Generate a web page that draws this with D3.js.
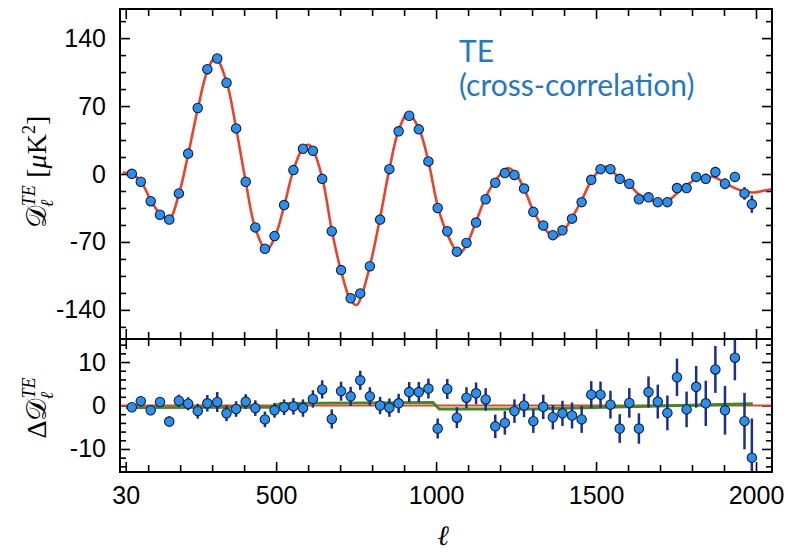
<!DOCTYPE html>
<html>
<head>
<meta charset="utf-8">
<script src="https://cdn.jsdelivr.net/npm/d3@7"></script>
<style>
  body { margin: 0; background: #fff; }
  .tick text { font-family: "Liberation Sans", Arial, sans-serif; font-size: 25px; fill: #000; }
</style>
</head>
<body>
<div id="chart"></div>
<script>
// binned multipoles
const ell = [49, 77, 108, 137, 166, 196, 225, 255, 285, 316, 345, 375, 405, 435, 465, 495, 525, 554, 584, 615,
  644, 674, 703, 733, 763, 793, 825, 854, 883, 916, 946, 976, 1005, 1035, 1065, 1095, 1125, 1155, 1185, 1215,
  1245, 1275, 1304, 1335, 1365, 1395, 1425, 1455, 1485, 1514, 1545, 1574, 1604, 1634, 1664, 1693, 1723, 1753, 1783, 1813,
  1843, 1873, 1903, 1934, 1964, 1987];

// D_l^TE data points (muK^2)
const teData = [0.2, -8, -28, -42, -47, -20, 21, 68, 108, 119, 94, 47, -8, -55, -77, -64, -32, 4, 26, 24,
  -5, -59, -99, -128, -123, -95, -47, 5, 44, 60, 46, 13, -35, -59, -80, -71, -50, -26, -9, 1,
  -1, -15, -39, -53, -63, -58, -46, -29, -6, 5, 5, -5, -10, -26, -24, -29, -29, -14.5, -14.5, -3,
  -5, 2, -10, -3, -20, -31];

// 1-sigma errors (muK^2)
const teErr = [1.0, 1.0, 1.1, 1.1, 1.2, 1.4, 1.5, 1.7, 1.9, 2.3, 1.8, 1.8, 1.7, 1.8, 1.8, 1.7, 1.8, 1.9, 2.0, 2.0,
  2.1, 2.2, 2.2, 2.2, 2.2, 2.1, 2.0, 2.1, 2.2, 2.3, 2.3, 2.3, 2.3, 2.3, 2.4, 2.4, 2.5, 2.6, 2.7, 2.7,
  2.7, 2.7, 2.7, 2.8, 2.8, 2.9, 3.0, 3.1, 3.1, 3.0, 3.2, 3.3, 3.4, 3.5, 3.6, 3.9, 4.0, 4.3, 4.1, 4.8,
  5.2, 5.4, 5.6, 5.2, 6.5, 9.0];

// residuals with respect to the best fit
const resid = [-0.4, 1.0, -1.1, 0.8, -3.7, 1.1, 0.4, -1.3, 0.5, 0.8, -1.8, -0.8, 0.9, -0.6, -3.2, -1.1, -0.4, -0.2, -0.6, 1.5,
  3.7, -3.1, 3.3, 2.1, 5.8, 2.1, 0, -0.5, 0.5, 3.1, 3.1, 3.9, -5.3, 3.8, -2.8, 1.8, 2.8, 1.4, -4.8, -4.0,
  -1.3, 0, -3.6, -0.3, -2.7, -1.8, -2.3, -3.2, 2.5, 2.5, 0.2, -5.3, 0.6, -5.3, 3.1, 0.9, -1.7, 6.5, -0.9, 4.3,
  0.5, 8.3, -1.1, 11, -3.6, -12];

// best-fit model curve
const modelEll = [20, 30, 49, 78, 108, 137, 165, 196, 225, 255, 285, 310, 345, 375, 405, 435, 470, 495, 525, 554,
  584, 602, 615, 645, 674, 703, 733, 752, 763, 793, 825, 854, 883, 912, 946, 976, 1005, 1035, 1072, 1095,
  1125, 1155, 1185, 1222, 1245, 1275, 1304, 1335, 1372, 1395, 1425, 1455, 1485, 1514, 1533, 1574, 1604, 1634, 1664, 1697,
  1723, 1753, 1783, 1813, 1843, 1868, 1903, 1934, 1964, 1995, 2020, 2050];
const modelVal = [1.5, 1.2, 0, -8, -27, -41, -47, -21, 20, 67, 106, 120, 95, 47, -8, -56, -78.5, -66, -33, 4,
  27, 30, 25, -5, -58, -100, -130, -135, -129, -95, -45, 5, 45, 62.5, 47, 13, -33, -62, -82, -73,
  -49, -24, -7, 6, 2, -15, -38, -55, -65, -60, -45, -27, -7, 5, 7.5, -4.5, -11, -21, -26, -29,
  -28, -20, -12, -5, -3.5, -3, -9, -14.5, -18, -19, -17.5, -15.5];

// alternative fit residual (green)
const altEll = [30, 480, 515, 990, 1010, 1300, 1990];
const altVal = [-0.5, -0.4, 0.5, 0.7, -0.8, -0.8, 0.4];

// ticks
const xMajor = [30, 500, 1000, 1500, 2000];
const yTopMajor = [-140, -70, 0, 70, 140];
const yBotMajor = [-10, 0, 10];

const W = 788, H = 553;
const L = 120, R = 772, T = 9, M = 339, B = 472;

const svg = d3.select("#chart").append("svg")
  .attr("width", W)
  .attr("height", H);

const x = d3.scaleLinear().domain([12, 2050]).range([L, R]);
const yTop = d3.scaleLinear().domain([-170, 170]).range([M, T]);
const yBot = d3.scaleLinear().domain([-15.3, 15.3]).range([B, M]);

const xMinor = d3.range(100, 2001, 100).filter(v => v % 500 !== 0);
const yTopMinor = d3.range(-157.5, 170, 17.5).filter(v => Math.abs(v % 70) > 0.01);
const yBotMinor = d3.range(-14, 15, 2).filter(v => v % 10 !== 0);

function addAxis(gen, tr, values, size, labels) {
  gen.tickValues(values).tickSize(-size).tickPadding(14);
  if (!labels) gen.tickFormat("");
  else gen.tickFormat(d => String(d));
  const g = svg.append("g").attr("transform", tr).call(gen);
  g.select(".domain").remove();
  g.selectAll(".tick line").attr("stroke", "#000").attr("stroke-width", 1.6);
  return g;
}

// upper panel axes
addAxis(d3.axisLeft(yTop), `translate(${L},0)`, yTopMajor, 10, true);
addAxis(d3.axisLeft(yTop), `translate(${L},0)`, yTopMinor, 6, false);
addAxis(d3.axisRight(yTop), `translate(${R},0)`, yTopMajor, 10, false);
addAxis(d3.axisRight(yTop), `translate(${R},0)`, yTopMinor, 6, false);
addAxis(d3.axisTop(x), `translate(0,${T})`, xMajor, 10, false);
addAxis(d3.axisTop(x), `translate(0,${T})`, xMinor, 7, false);
addAxis(d3.axisBottom(x), `translate(0,${M})`, xMajor, 10, false);
addAxis(d3.axisBottom(x), `translate(0,${M})`, xMinor, 7, false);

// lower panel axes
addAxis(d3.axisLeft(yBot), `translate(${L},0)`, yBotMajor, 10, true);
addAxis(d3.axisLeft(yBot), `translate(${L},0)`, yBotMinor, 6, false);
addAxis(d3.axisRight(yBot), `translate(${R},0)`, yBotMajor, 10, false);
addAxis(d3.axisRight(yBot), `translate(${R},0)`, yBotMinor, 6, false);
addAxis(d3.axisTop(x), `translate(0,${M})`, xMajor, 10, false);
addAxis(d3.axisTop(x), `translate(0,${M})`, xMinor, 7, false);
addAxis(d3.axisBottom(x), `translate(0,${B})`, xMajor, 10, true);
addAxis(d3.axisBottom(x), `translate(0,${B})`, xMinor, 7, false);

// clip paths
const defs = svg.append("defs");
defs.append("clipPath").attr("id", "clipTop")
  .append("rect").attr("x", L).attr("y", T).attr("width", R - L).attr("height", M - T);
defs.append("clipPath").attr("id", "clipBot")
  .append("rect").attr("x", L).attr("y", M).attr("width", R - L).attr("height", B - M);

const pts = ell.map((l, i) => ({ l, v: teData[i], e: teErr[i], r: resid[i] }));

// upper panel
const gTop = svg.append("g").attr("clip-path", "url(#clipTop)");
gTop.append("path")
  .datum(modelEll.map((l, i) => [l, modelVal[i]]))
  .attr("fill", "none")
  .attr("stroke", "#e8432c")
  .attr("stroke-width", 2.6)
  .attr("d", d3.line().x(d => x(d[0])).y(d => yTop(d[1])).curve(d3.curveCatmullRom.alpha(0.5)));

gTop.selectAll("line.err")
  .data(pts)
  .join("line")
  .attr("class", "err")
  .attr("x1", d => x(d.l)).attr("x2", d => x(d.l))
  .attr("y1", d => yTop(d.v - d.e)).attr("y2", d => yTop(d.v + d.e))
  .attr("stroke", "#1b2f8c").attr("stroke-width", 2.5);

gTop.selectAll("circle")
  .data(pts)
  .join("circle")
  .attr("cx", d => x(d.l))
  .attr("cy", d => yTop(d.v))
  .attr("r", 4.7)
  .attr("fill", "#2b8ff0")
  .attr("stroke", "#10203a")
  .attr("stroke-width", 1.1);

// lower panel
const gBot = svg.append("g").attr("clip-path", "url(#clipBot)");
gBot.append("line")
  .attr("x1", L).attr("x2", R)
  .attr("y1", yBot(0)).attr("y2", yBot(0))
  .attr("stroke", "#e8432c").attr("stroke-width", 2.2);

gBot.append("path")
  .datum(altEll.map((l, i) => [l, altVal[i]]))
  .attr("fill", "none")
  .attr("stroke", "#3e8a23")
  .attr("stroke-width", 2.8)
  .attr("d", d3.line().x(d => x(d[0])).y(d => yBot(d[1])));

gBot.selectAll("line.err")
  .data(pts)
  .join("line")
  .attr("class", "err")
  .attr("x1", d => x(d.l)).attr("x2", d => x(d.l))
  .attr("y1", d => yBot(d.r - d.e)).attr("y2", d => yBot(d.r + d.e))
  .attr("stroke", "#1b2f8c").attr("stroke-width", 2.5);

gBot.selectAll("circle")
  .data(pts)
  .join("circle")
  .attr("cx", d => x(d.l))
  .attr("cy", d => yBot(d.r))
  .attr("r", 4.7)
  .attr("fill", "#2b8ff0")
  .attr("stroke", "#10203a")
  .attr("stroke-width", 1.1);

// frames
[[T, M], [M, B]].forEach(([y0, y1]) => {
  svg.append("rect")
    .attr("x", L).attr("y", y0)
    .attr("width", R - L).attr("height", y1 - y0)
    .attr("fill", "none")
    .attr("stroke", "#000")
    .attr("stroke-width", 2);
});

// axis titles
const serif = "'Liberation Serif', 'DejaVu Serif', serif";
const yt = svg.append("text")
  .attr("transform", "translate(46,172) rotate(-90)")
  .attr("text-anchor", "middle")
  .style("font-family", serif)
  .style("font-size", "28px");
yt.append("tspan").text("\u{1D49F}");
yt.append("tspan").attr("font-size", 18).attr("font-style", "italic").attr("dy", -11).text("TE");
yt.append("tspan").attr("font-size", 18).attr("font-style", "italic").attr("dx", -22).attr("dy", 18).text("\u2113");
yt.append("tspan").attr("dx", 22).attr("dy", -7).text("[");
yt.append("tspan").attr("font-style", "italic").text("\u03BC");
yt.append("tspan").text("K");
yt.append("tspan").attr("font-size", 18).attr("dy", -11).text("2");
yt.append("tspan").attr("dy", 11).text("]");

const yb = svg.append("text")
  .attr("transform", "translate(46,408) rotate(-90)")
  .attr("text-anchor", "middle")
  .style("font-family", serif)
  .style("font-size", "28px");
yb.append("tspan").text("\u0394\u{1D49F}");
yb.append("tspan").attr("font-size", 18).attr("font-style", "italic").attr("dy", -11).text("TE");
yb.append("tspan").attr("font-size", 18).attr("font-style", "italic").attr("dx", -22).attr("dy", 18).text("\u2113");

svg.append("text")
  .attr("x", 443).attr("y", 545)
  .attr("text-anchor", "middle")
  .style("font-family", serif)
  .style("font-style", "italic")
  .style("font-size", "28px")
  .text("\u2113");

// annotation
const note = svg.append("text")
  .style("font-family", "Lato, 'Open Sans', sans-serif")
  .style("font-size", "30px")
  .attr("fill", "#1f78c8");
note.append("tspan").attr("x", 459).attr("y", 62).text("TE");
note.append("tspan").attr("x", 459).attr("y", 96).text("(cross-correlation)");
</script>
</body>
</html>
